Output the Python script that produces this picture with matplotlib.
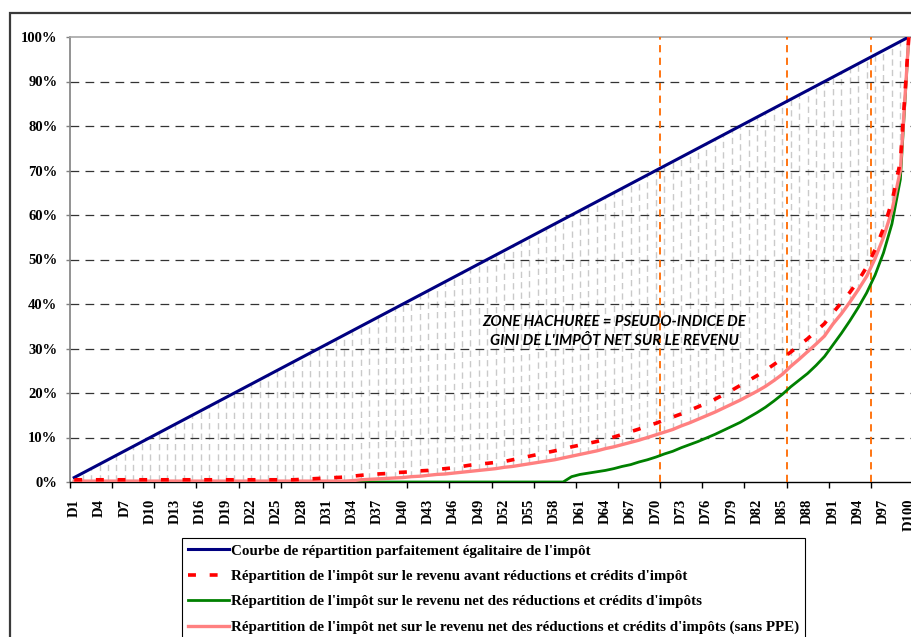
import matplotlib
matplotlib.use("Agg")
import matplotlib.pyplot as plt
from matplotlib.lines import Line2D
from matplotlib.patches import Rectangle
from matplotlib.font_manager import FontProperties

# Data: cumulated share of the tax (%) by income centile D1..D100
deciles = [f"D{k}" for k in range(1, 101)]

egalitaire = [
    1, 2, 3, 4, 5, 6, 7, 8, 9, 10,
    11, 12, 13, 14, 15, 16, 17, 18, 19, 20,
    21, 22, 23, 24, 25, 26, 27, 28, 29, 30,
    31, 32, 33, 34, 35, 36, 37, 38, 39, 40,
    41, 42, 43, 44, 45, 46, 47, 48, 49, 50,
    51, 52, 53, 54, 55, 56, 57, 58, 59, 60,
    61, 62, 63, 64, 65, 66, 67, 68, 69, 70,
    71, 72, 73, 74, 75, 76, 77, 78, 79, 80,
    81, 82, 83, 84, 85, 86, 87, 88, 89, 90,
    91, 92, 93, 94, 95, 96, 97, 98, 99, 100,
]

avant_reductions = [0.5] * 27 + [
    0.6, 0.7, 0.8, 0.9, 1.0, 1.1, 1.3, 1.5, 1.7, 1.8, 1.9, 2.1, 2.2,
    2.3, 2.5, 2.6, 2.8, 3.0, 3.2, 3.5, 3.8, 4.0, 4.2,
    4.4, 4.6, 5.0, 5.4, 5.8, 6.2, 6.6, 7.0, 7.4, 7.9,
    8.3, 8.7, 9.1, 9.6, 10.1, 10.7, 11.3, 11.9, 12.6, 13.2,
    13.9, 14.6, 15.3, 16.1, 16.9, 17.7, 18.6, 19.6, 20.6, 21.7,
    22.8, 23.9, 25.1, 26.4, 27.8, 29.2, 30.7, 32.2, 33.9, 35.6,
    38.0, 40.3, 42.6, 45.2, 48.3, 52.2, 57.0, 63.0, 72.0, 100.0,
]

net_reductions = [0.0] * 59 + [
    1.2,
    1.7, 2.0, 2.3, 2.6, 3.0, 3.5, 3.9, 4.5, 5.0, 5.6,
    6.3, 6.9, 7.7, 8.4, 9.1, 9.9, 10.7, 11.6, 12.5, 13.4,
    14.5, 15.6, 16.8, 18.2, 19.7, 21.4, 22.9, 24.4, 26.2, 28.2,
    30.8, 33.4, 36.2, 39.2, 42.5, 46.5, 51.5, 58.0, 68.0, 100.0,
]

net_sans_ppe = [0.2] * 33 + [
    0.3, 0.5, 0.6, 0.7, 0.8, 0.9, 1.0,
    1.2, 1.3, 1.5, 1.7, 1.8, 2.0, 2.2, 2.4, 2.6, 2.8,
    3.0, 3.3, 3.5, 3.8, 4.1, 4.4, 4.7, 5.0, 5.4, 5.8,
    6.2, 6.6, 7.0, 7.5, 7.9, 8.4, 8.9, 9.4, 10.0, 10.6,
    11.2, 11.8, 12.6, 13.3, 14.1, 14.9, 15.7, 16.6, 17.5, 18.4,
    19.4, 20.4, 21.5, 22.8, 24.2, 26.0, 27.6, 29.3, 31.0, 32.8,
    35.5, 37.8, 40.4, 43.2, 46.2, 50.2, 55.0, 61.0, 70.0, 100.0,
]

reperes = [70, 85, 95]  # orange markers after these centiles

legend_labels = [
    "Courbe de répartition parfaitement égalitaire de l'impôt",
    "Répartition de l'impôt sur le revenu avant réductions et crédits d'impôt",
    "Répartition de l'impôt sur le revenu net des réductions et crédits d'impôts",
    "Répartition de l'impôt net sur le revenu net des réductions et crédits d'impôts (sans PPE)",
]
note = "ZONE HACHUREE = PSEUDO-INDICE DE\nGINI DE L'IMPÔT NET SUR LE REVENU"

SERIF = "Liberation Serif"
W, H = 911, 637

fig = plt.figure(figsize=(W / 100, H / 100), dpi=100)
ax = fig.add_axes([70 / W, 1 - 482 / H, 843 / W, 445 / H])

x = list(range(1, len(deciles) + 1))

# hatched zone between the egalitarian line and the net tax curve
ax.vlines(x, net_sans_ppe, egalitaire, colors="#cacaca", linewidth=1.0,
          linestyles=(0, (4.5, 3)), zorder=1)

# horizontal grid
for g in range(10, 100, 10):
    ax.axhline(g, color="#333333", linewidth=0.9, linestyle=(0, (7, 5)), zorder=2)

# orange markers
for r in reperes:
    ax.axvline(r + 0.5, color="#ff6a00", linewidth=1.3, linestyle=(0, (4, 3)), zorder=3)

# curves
ax.plot(x, egalitaire, color="#000080", linewidth=2.2, zorder=5)
ax.plot(x, net_reductions, color="#008000", linewidth=2.0, zorder=5)
ax.plot(x, net_sans_ppe, color="#ff8080", linewidth=2.4, zorder=6)
ax.plot(x, avant_reductions, color="#ff0000", linewidth=2.6,
        linestyle=(0, (2.2, 3.8)), zorder=7)

ax.text(65.1, 33.8, note, ha="center", va="center", multialignment="center",
        fontsize=10.8, fontweight="bold", fontstyle="italic", family="Lato",
        linespacing=1.5, zorder=8)

# axes
ax.set_xlim(0.5, 100.5)
ax.set_ylim(0, 100)
ax.set_yticks(range(0, 101, 10))
ax.set_yticklabels([f"{v}%" for v in range(0, 101, 10)])
ax.set_xticks(x[::3])
ax.set_xticklabels(deciles[::3], rotation=90)
ax.set_xticks([i * 5 + 0.5 for i in range(21)], minor=True)

ax.tick_params(axis="y", length=3, width=1, color="#808080", pad=6)
ax.tick_params(axis="x", which="major", length=0, pad=12)
ax.tick_params(axis="x", which="minor", length=4, width=1, color="black")
for lab in ax.get_xticklabels() + ax.get_yticklabels():
    lab.set_family(SERIF)
    lab.set_fontweight("bold")
    lab.set_fontsize(10.5)

ax.spines["right"].set_visible(False)
ax.spines["top"].set_color("#a6a6a6")
ax.spines["top"].set_linewidth(1.2)
ax.spines["left"].set_color("#808080")
ax.spines["left"].set_linewidth(1.2)
ax.spines["bottom"].set_color("black")
ax.spines["bottom"].set_linewidth(1.0)

# legend
handles = [
    Line2D([], [], color="#000080", linewidth=2.2),
    Line2D([], [], color="#ff0000", linewidth=2.6, linestyle=(0, (2.2, 3.8))),
    Line2D([], [], color="#008000", linewidth=2.0),
    Line2D([], [], color="#ff8080", linewidth=2.4),
]
leg = fig.legend(handles, legend_labels, loc="upper left",
                 bbox_to_anchor=(182 / W, 1 - 538 / H), frameon=True,
                 fancybox=False, edgecolor="black", framealpha=1,
                 prop=FontProperties(family=SERIF, weight="bold", size=10.8),
                 handlelength=2.75, handletextpad=0.1, labelspacing=0.8,
                 borderpad=0.4, borderaxespad=0)
leg.get_frame().set_linewidth(0.8)

# outer chart frame (cropped)
fig.add_artist(Rectangle((10 / W, -0.5), 2, 1.5 - 13 / H, transform=fig.transFigure,
                         fill=False, edgecolor="#3a3a3a", linewidth=1.6))

fig.savefig("out.png", dpi=100)
